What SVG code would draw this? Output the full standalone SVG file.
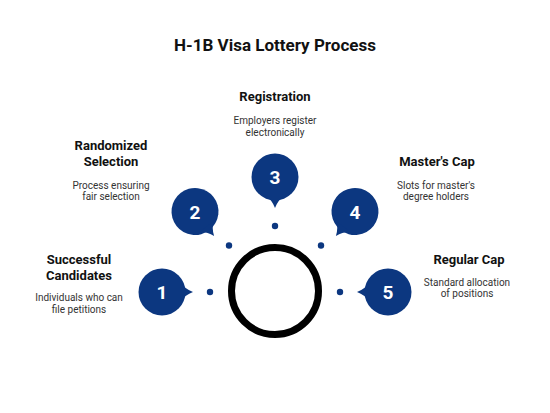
<svg xmlns="http://www.w3.org/2000/svg" xmlns:xlink="http://www.w3.org/1999/xlink" width="550" height="413" viewBox="0 0 550 413">
<defs>
<style>
.title{font-family:Roboto,"Liberation Sans",sans-serif;font-weight:700;font-size:17px;fill:#111;text-anchor:middle}
.head{font-family:Roboto,"Liberation Sans",sans-serif;font-weight:700;font-size:13px;fill:#111;text-anchor:middle}
.desc{font-family:Roboto,"Liberation Sans",sans-serif;font-size:10px;fill:#333;text-anchor:middle}
.num{font-family:Roboto,"Liberation Sans",sans-serif;font-weight:700;font-size:19px;fill:#fff;text-anchor:middle}
.dot{fill:#0c3780}
.bub{fill:#0c3780}
</style>
<g id="bubble">
<circle cx="0" cy="0" r="23.5" class="bub"/>
<path d="M19,-9 Q23,-3 31,0 Q23,3 19,9 Z" class="bub"/>
</g>
</defs>
<rect width="550" height="413" fill="#fff"/>
<text class="title" x="275" y="51">H-1B Visa Lottery Process</text>

<g id="connectors">
<circle cx="275" cy="291" r="43.5" fill="none" stroke="#000" stroke-width="7"/>
<circle class="dot" cx="210" cy="292" r="3.2"/>
<circle class="dot" cx="229" cy="245.5" r="3.2"/>
<circle class="dot" cx="275" cy="226" r="3.2"/>
<circle class="dot" cx="321" cy="245.5" r="3.2"/>
<circle class="dot" cx="340" cy="292" r="3.2"/>
</g>

<g id="node1">
<use xlink:href="#bubble" transform="translate(162,292)"/>
<text class="num" x="162" y="299">1</text>
<text class="head" x="79" y="264">Successful</text>
<text class="head" x="79" y="280">Candidates</text>
<text class="desc" x="79" y="301">Individuals who can</text>
<text class="desc" x="79" y="313">file petitions</text>
</g>

<g id="node2">
<use xlink:href="#bubble" transform="translate(195,211.5) rotate(52)"/>
<text class="num" x="195" y="218.5">2</text>
<text class="head" x="111" y="150">Randomized</text>
<text class="head" x="111" y="166">Selection</text>
<text class="desc" x="111" y="188.5">Process ensuring</text>
<text class="desc" x="111" y="200">fair selection</text>
</g>

<g id="node3">
<use xlink:href="#bubble" transform="translate(275,177) rotate(90)"/>
<text class="num" x="275" y="184">3</text>
<text class="head" x="275" y="101">Registration</text>
<text class="desc" x="275" y="123.5">Employers register</text>
<text class="desc" x="275" y="135.5">electronically</text>
</g>

<g id="node4">
<use xlink:href="#bubble" transform="translate(355,211.5) rotate(128)"/>
<text class="num" x="355" y="218.5">4</text>
<text class="head" x="437" y="166">Master's Cap</text>
<text class="desc" x="436" y="188.5">Slots for master's</text>
<text class="desc" x="436" y="200">degree holders</text>
</g>

<g id="node5">
<use xlink:href="#bubble" transform="translate(388,292) rotate(180)"/>
<text class="num" x="388" y="299">5</text>
<text class="head" x="469" y="264">Regular Cap</text>
<text class="desc" x="467" y="285.5">Standard allocation</text>
<text class="desc" x="467" y="297">of positions</text>
</g>
</svg>
